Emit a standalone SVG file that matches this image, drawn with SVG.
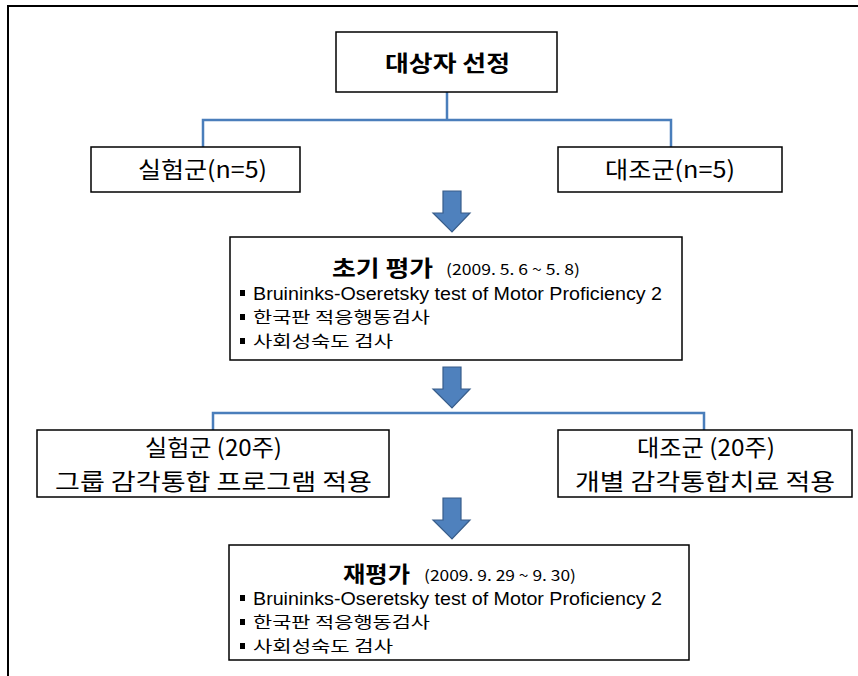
<svg xmlns="http://www.w3.org/2000/svg" width="858" height="676" viewBox="0 0 858 676">
<style>
  .box{fill:#fff;stroke:#000;stroke-width:1.5}
  .conn{fill:none;stroke:#4a7ebb;stroke-width:2.5}
  .arrow{fill:#4f81bd;stroke:#385d8a;stroke-width:1.2}
  text{font-family:"Noto Sans CJK KR","Noto Sans",sans-serif;fill:#000}
  .title{font-size:22px;font-weight:bold}
  .grp{font-size:23px}
  .date{font-size:15px}
  .lat{font-family:"Liberation Sans","Noto Sans",sans-serif;font-size:18px}
  .item{font-size:16px}
</style>
<defs>
  <path id="dn" d="M10 0 H28 V22 H37 L19 41 L0 22 H10 Z"/>
  <rect id="bul" width="5" height="6" fill="#000"/>
</defs>
<path d="M8 676 V6 H858" fill="none" stroke="#000" stroke-width="2"/>
<g id="connectors">
  <path class="conn" d="M447 92 V120 M203 147 V120 H671 V147"/>
  <path class="conn" d="M213 430 V413 H704 V430"/>
  <use href="#dn" class="arrow" x="433" y="191"/>
  <use href="#dn" class="arrow" x="433" y="367"/>
  <use href="#dn" class="arrow" x="433" y="498"/>
</g>
<g id="n-select">
  <rect class="box" x="336" y="32" width="221" height="60"/>
  <text class="title" x="385" y="71" textLength="125" lengthAdjust="spacingAndGlyphs">대상자 선정</text>
</g>
<g id="n-exp">
  <rect class="box" x="91" y="147" width="209" height="45"/>
  <text class="grp" x="138" y="178" textLength="129" lengthAdjust="spacingAndGlyphs">실험군(n=5)</text>
</g>
<g id="n-ctl">
  <rect class="box" x="558" y="147" width="224" height="45"/>
  <text class="grp" x="605" y="178" textLength="130" lengthAdjust="spacingAndGlyphs">대조군(n=5)</text>
</g>
<g id="n-pre">
  <rect class="box" x="230" y="237" width="452" height="123"/>
  <text class="title" x="332" y="276" textLength="101" lengthAdjust="spacingAndGlyphs">초기 평가</text>
  <text class="date" x="446" y="275" textLength="134" lengthAdjust="spacingAndGlyphs">(2009. 5. 6 ~ 5. 8)</text>
  <use href="#bul" x="240" y="290"/>
  <text class="lat" x="253" y="300" textLength="409" lengthAdjust="spacingAndGlyphs">Bruininks-Oseretsky test of Motor Proficiency 2</text>
  <use href="#bul" x="240" y="314"/>
  <text class="item" x="253" y="323" textLength="177" lengthAdjust="spacingAndGlyphs">한국판 적응행동검사</text>
  <use href="#bul" x="240" y="338"/>
  <text class="item" x="253" y="347" textLength="140" lengthAdjust="spacingAndGlyphs">사회성숙도 검사</text>
</g>
<g id="n-exp2">
  <rect class="box" x="37" y="430" width="352" height="67"/>
  <text class="grp" x="145" y="456" textLength="137" lengthAdjust="spacingAndGlyphs">실험군 (20주)</text>
  <text class="grp" x="55" y="490" textLength="317" lengthAdjust="spacingAndGlyphs">그룹 감각통합 프로그램 적용</text>
</g>
<g id="n-ctl2">
  <rect class="box" x="558" y="430" width="294" height="67"/>
  <text class="grp" x="637" y="456" textLength="138" lengthAdjust="spacingAndGlyphs">대조군 (20주)</text>
  <text class="grp" x="575" y="490" textLength="260" lengthAdjust="spacingAndGlyphs">개별 감각통합치료 적용</text>
</g>
<g id="n-post">
  <rect class="box" x="229" y="545" width="460" height="115"/>
  <text class="title" x="343" y="582" textLength="67" lengthAdjust="spacingAndGlyphs">재평가</text>
  <text class="date" x="424" y="581" textLength="152" lengthAdjust="spacingAndGlyphs">(2009. 9. 29 ~ 9. 30)</text>
  <use href="#bul" x="240" y="595"/>
  <text class="lat" x="253" y="605" textLength="409" lengthAdjust="spacingAndGlyphs">Bruininks-Oseretsky test of Motor Proficiency 2</text>
  <use href="#bul" x="240" y="619"/>
  <text class="item" x="253" y="628" textLength="177" lengthAdjust="spacingAndGlyphs">한국판 적응행동검사</text>
  <use href="#bul" x="240" y="643"/>
  <text class="item" x="253" y="652" textLength="140" lengthAdjust="spacingAndGlyphs">사회성숙도 검사</text>
</g>
</svg>
